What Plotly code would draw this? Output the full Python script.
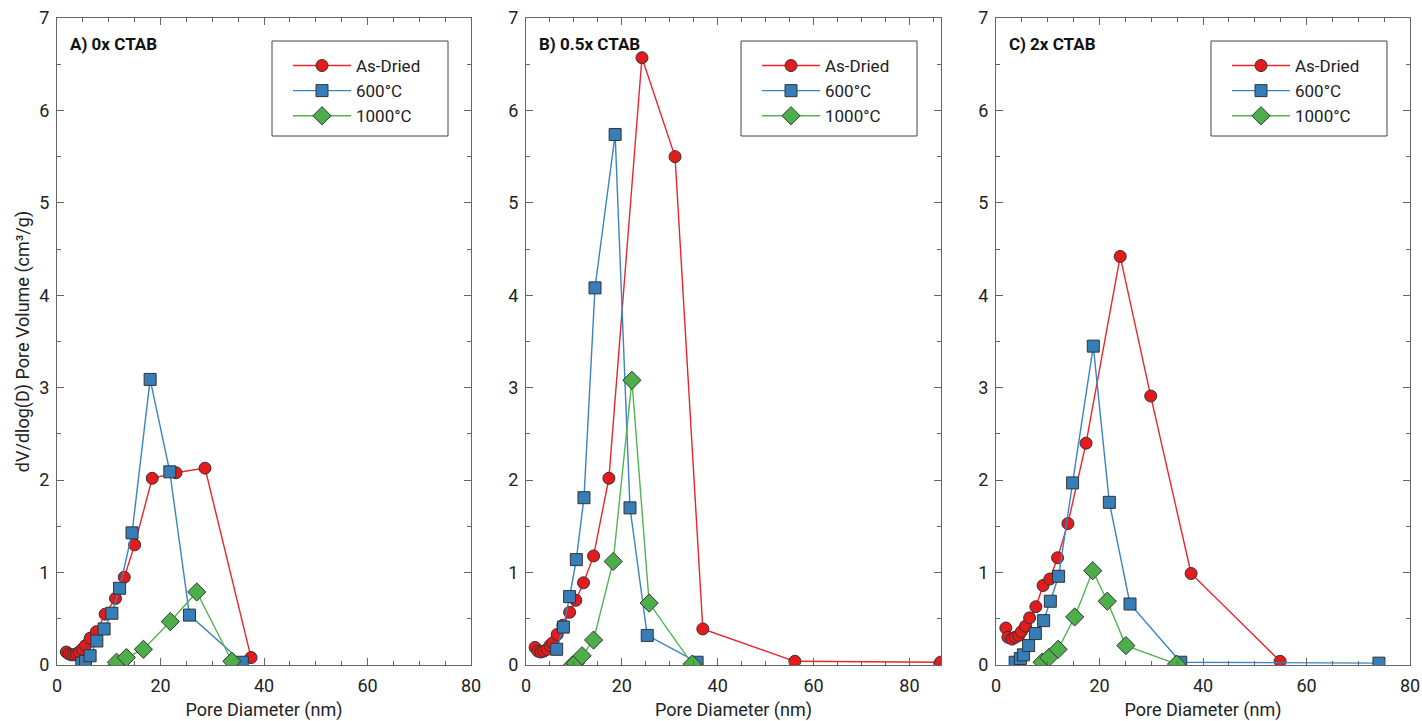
import plotly.graph_objects as go

# ---------------- data ----------------
# Panel A) 0x CTAB
a_dried_x = [1.8, 2.3, 2.8, 3.3, 3.8, 4.3, 4.9, 5.5, 6.4, 7.6, 9.3, 11.3, 13.0, 15.0, 18.4, 23.0, 28.6, 37.5]
a_dried_y = [0.14, 0.12, 0.11, 0.11, 0.12, 0.14, 0.17, 0.21, 0.29, 0.36, 0.55, 0.72, 0.95, 1.30, 2.02, 2.08, 2.13, 0.08]
a_600_x = [4.8, 5.5, 6.4, 7.7, 9.1, 10.6, 12.1, 14.5, 18.0, 21.8, 25.6, 35.8]
a_600_y = [0.02, 0.04, 0.10, 0.26, 0.39, 0.56, 0.83, 1.43, 3.09, 2.09, 0.54, 0.03]
a_1000_x = [11.5, 13.4, 16.7, 21.9, 27.0, 33.8]
a_1000_y = [0.03, 0.08, 0.17, 0.47, 0.79, 0.04]

# Panel B) 0.5x CTAB
b_dried_x = [1.9, 2.5, 3.1, 3.7, 4.4, 5.0, 5.6, 6.5, 7.7, 9.1, 10.4, 12.0, 14.1, 17.3, 24.2, 31.1, 36.9, 56.1, 86.5]
b_dried_y = [0.19, 0.15, 0.14, 0.15, 0.17, 0.21, 0.24, 0.33, 0.43, 0.57, 0.70, 0.89, 1.18, 2.02, 6.57, 5.50, 0.39, 0.04, 0.03]
b_600_x = [6.4, 7.8, 9.1, 10.5, 12.1, 14.4, 18.6, 21.7, 25.3, 35.7]
b_600_y = [0.17, 0.41, 0.74, 1.14, 1.81, 4.08, 5.74, 1.70, 0.32, 0.03]
b_1000_x = [9.7, 10.3, 11.7, 14.1, 18.2, 22.1, 25.7, 34.7]
b_1000_y = [0.00, 0.02, 0.10, 0.27, 1.12, 3.08, 0.67, 0.01]

# Panel C) 2x CTAB
c_dried_x = [1.9, 2.3, 3.1, 3.7, 4.4, 4.9, 5.7, 6.5, 7.7, 9.1, 10.4, 11.9, 13.9, 17.4, 24.0, 29.9, 37.7, 54.9]
c_dried_y = [0.40, 0.30, 0.28, 0.30, 0.32, 0.36, 0.42, 0.51, 0.63, 0.86, 0.93, 1.16, 1.53, 2.40, 4.42, 2.91, 0.99, 0.04]
c_600_x = [3.7, 4.7, 5.3, 6.3, 7.6, 9.2, 10.5, 12.1, 14.8, 18.8, 21.9, 25.9, 35.7, 74.0]
c_600_y = [0.03, 0.07, 0.11, 0.21, 0.34, 0.48, 0.69, 0.96, 1.97, 3.45, 1.76, 0.66, 0.03, 0.02]
c_1000_x = [8.9, 10.2, 12.0, 15.2, 18.7, 21.5, 25.1, 34.9]
c_1000_y = [0.03, 0.08, 0.17, 0.52, 1.02, 0.69, 0.21, 0.01]

series_names = ["As-Dried", "600°C", "1000°C"]
panel_titles = ["A) 0x CTAB", "B) 0.5x CTAB", "C) 2x CTAB"]
x_tick_vals = [0, 20, 40, 60, 80]
y_tick_vals = [0, 1, 2, 3, 4, 5, 6, 7]
x_ranges = [[0, 80], [0, 86.6], [0, 80]]

panels = [
    [(a_dried_x, a_dried_y), (a_600_x, a_600_y), (a_1000_x, a_1000_y)],
    [(b_dried_x, b_dried_y), (b_600_x, b_600_y), (b_1000_x, b_1000_y)],
    [(c_dried_x, c_dried_y), (c_600_x, c_600_y), (c_1000_x, c_1000_y)],
]

# ---------------- style ----------------
line_colors = ["#e8262b", "#3a83c4", "#52b452"]
fill_colors = ["#e41a1c", "#377eb8", "#4daf4a"]
symbols = ["circle", "square", "diamond"]
sizes = [12, 12, 14]
FONT = "Roboto, Arial, sans-serif"
AX = "#666666"
TXT = "#222222"

fig = go.Figure()

W, H = 1422, 721
ml, mr, mt, mb = 57, 12, 18, 56
pw = W - ml - mr
ph = H - mt - mb


def px2x(px):
    return (px - ml) / pw


def py2y(py):
    return (H - mb - py) / ph


domains = [[0, px2x(471)], [px2x(526), px2x(941)], [px2x(996), 1.0]]
legend_boxes = [(272, 448), (741, 917), (1211, 1387)]
legend_names = ["legend", "legend2", "legend3"]

for p, series in enumerate(panels):
    xa = "x" if p == 0 else f"x{p+1}"
    ya = "y" if p == 0 else f"y{p+1}"
    for s, (xs, ys) in enumerate(series):
        fig.add_trace(go.Scatter(
            x=xs, y=ys, mode="lines+markers", name=series_names[s],
            xaxis=xa, yaxis=ya, legend=legend_names[p],
            line=dict(color=line_colors[s], width=1.4),
            marker=dict(symbol=symbols[s], size=sizes[s], color=fill_colors[s],
                        line=dict(color="#333333", width=1)),
        ))

layout = dict(
    template="none",
    width=W, height=H,
    margin=dict(l=ml, r=mr, t=mt, b=mb, pad=0, autoexpand=False),
    paper_bgcolor="white", plot_bgcolor="white",
    font=dict(family=FONT, size=18, color=TXT),
    showlegend=True,
    shapes=[],
)

for p in range(3):
    xk = "xaxis" if p == 0 else f"xaxis{p+1}"
    yk = "yaxis" if p == 0 else f"yaxis{p+1}"
    anchor_y = "y" if p == 0 else f"y{p+1}"
    anchor_x = "x" if p == 0 else f"x{p+1}"
    layout[xk] = dict(
        domain=domains[p], anchor=anchor_y, range=x_ranges[p], automargin=False,
        tickmode="array", tickvals=x_tick_vals,
        ticks="inside", ticklen=7, tickwidth=1, tickcolor=AX,
        minor=dict(dtick=5, tick0=0, ticks="inside", ticklen=4, tickcolor=AX, showgrid=False),
        showline=True, linecolor=AX, linewidth=1, mirror="ticks",
        showgrid=False, zeroline=False,
        tickfont=dict(size=18, color=TXT),
        ticklabelstandoff=4,
        title=dict(text="Pore Diameter (nm)", font=dict(size=18, color=TXT), standoff=9),
    )
    layout[yk] = dict(
        domain=[0, 1], anchor=anchor_x, range=[0, 7], automargin=False,
        tickmode="array", tickvals=y_tick_vals,
        ticks="inside", ticklen=7, tickwidth=1, tickcolor=AX,
        minor=dict(dtick=0.5, tick0=0, ticks="inside", ticklen=4, tickcolor=AX, showgrid=False),
        showline=True, linecolor=AX, linewidth=1, mirror="ticks",
        showgrid=False, zeroline=False,
        tickfont=dict(size=18, color=TXT),
        ticklabelstandoff=3,
    )
    if p == 0:
        layout[yk]["title"] = dict(text="dV/dlog(D) Pore Volume (cm³/g)",
                                   font=dict(size=18, color=TXT), standoff=4)
    bx0, bx1 = legend_boxes[p]
    layout["shapes"].append(dict(
        type="rect", xref="paper", yref="paper",
        x0=px2x(bx0), x1=px2x(bx1), y0=py2y(136), y1=py2y(41),
        line=dict(color="#444444", width=1), fillcolor="white", layer="below",
    ))
    layout[legend_names[p]] = dict(
        x=px2x(bx0 + 16), y=py2y(48),
        xanchor="left", yanchor="top",
        bgcolor="rgba(0,0,0,0)", borderwidth=0,
        font=dict(size=17, color=TXT, family=FONT),
        itemwidth=58,
        tracegroupgap=0,
    )

fig.update_layout(**layout)

for p in range(3):
    xd = "x domain" if p == 0 else f"x{p+1} domain"
    yd = "y domain" if p == 0 else f"y{p+1} domain"
    fig.add_annotation(
        text=f"<b>{panel_titles[p]}</b>", xref=xd, yref=yd,
        x=0.026, y=0.96, xanchor="left", yanchor="middle", showarrow=False,
        font=dict(size=17, color="#111111", family=FONT),
    )

fig.write_html(
    "out.html",
    config={"displayModeBar": False},
    post_script="document.body.style.margin='0';document.body.style.padding='0';",
)
